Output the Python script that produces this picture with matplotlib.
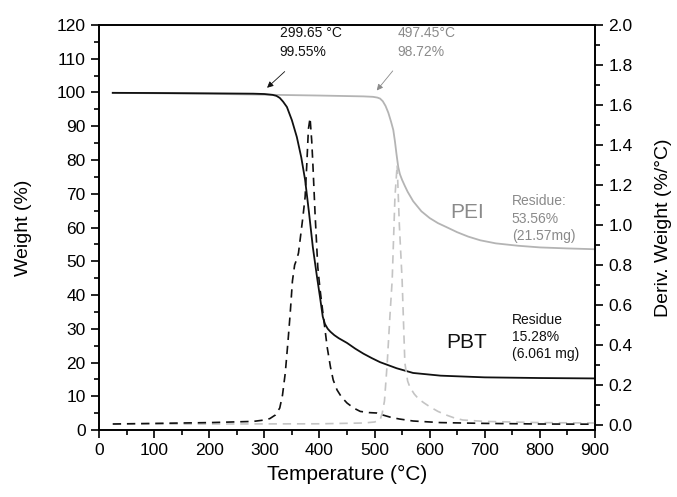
import matplotlib
matplotlib.use("Agg")
import matplotlib.pyplot as plt
from matplotlib.ticker import MultipleLocator, FormatStrFormatter

plt.rcParams['font.family'] = ['Liberation Sans', 'DejaVu Sans']

# TGA weight curves (temperature in °C, weight in %)
pbt_temp = [25, 100, 200, 280, 300, 315, 322, 328, 334, 341, 350, 359, 367, 374,
            381, 388, 395, 401, 406, 410, 415, 420, 427, 435, 450, 465, 480, 495,
            510, 540, 570, 620, 700, 800, 900]
pbt_weight = [99.9, 99.85, 99.75, 99.65, 99.55, 99.3, 99.0, 98.4, 97.3, 95.7, 91.8,
              86.8, 80.8, 74.1, 64.5, 54.2, 46.0, 39.4, 33.6, 31.4, 30.0, 29.1,
              28.1, 27.2, 25.8, 24.1, 22.6, 21.3, 20.1, 18.3, 16.9, 16.1, 15.6,
              15.4, 15.28]

pei_temp = [25, 200, 400, 480, 497, 505, 510, 515, 520, 525, 530, 534, 537, 540,
            543, 546, 550, 555, 560, 570, 585, 600, 615, 632, 650, 670, 692, 720,
            760, 800, 850, 900]
pei_weight = [99.9, 99.6, 99.1, 98.85, 98.72, 98.5, 98.2, 97.4, 96.0, 94.0, 91.3,
              88.9, 85.5, 81.5, 77.9, 75.8, 74.1, 72.3, 70.6, 67.8, 64.8, 62.8,
              61.3, 60.0, 58.6, 57.3, 56.2, 55.3, 54.6, 54.1, 53.8, 53.56]

# Derivative weight curves (%/°C)
pbt_dtemp = [25, 100, 200, 280, 300, 310, 320, 328, 333, 338, 343, 347, 351, 355,
             359, 362, 366, 370, 374, 377, 380, 383, 386, 388, 392, 397, 401, 405,
             410, 414, 420, 425, 432, 440, 450, 462, 474, 490, 504, 515, 530, 545,
             570, 620, 700, 800, 900]
pbt_deriv = [0.005, 0.008, 0.012, 0.018, 0.025, 0.032, 0.05, 0.085, 0.15, 0.26,
             0.42, 0.56, 0.72, 0.80, 0.83, 0.86, 0.95, 1.04, 1.14, 1.30, 1.48,
             1.535, 1.42, 1.31, 1.06, 0.79, 0.68, 0.59, 0.48, 0.39, 0.29, 0.225,
             0.175, 0.14, 0.11, 0.085, 0.068, 0.062, 0.06, 0.05, 0.038, 0.03,
             0.02, 0.012, 0.008, 0.005, 0.004]

pei_dtemp = [25, 200, 400, 480, 500, 510, 514, 518, 523, 528, 532, 537, 541, 545,
             550, 555, 560, 564, 572, 580, 590, 601, 615, 630, 645, 660, 700, 800,
             900]
pei_deriv = [0.005, 0.005, 0.006, 0.01, 0.015, 0.025, 0.06, 0.12, 0.31, 0.55,
             0.725, 1.14, 1.30, 1.0, 0.725, 0.31, 0.22, 0.19, 0.155, 0.13, 0.11,
             0.09, 0.068, 0.05, 0.035, 0.025, 0.018, 0.012, 0.01]

# Onset points
pbt_onset = (299.65, 99.55)
pei_onset = (497.45, 98.72)

BLACK = '#111111'
GRAY_LINE = '#b4b4b4'
GRAY_DASH = '#c4c4c4'
GRAY_TEXT = '#8a8a8a'

fig = plt.figure(figsize=(6.77, 4.97), dpi=100)
ax = fig.add_axes([0.1462, 0.1348, 0.7327, 0.8149])
ax2 = ax.twinx()

ax.plot(pei_temp, pei_weight, color=GRAY_LINE, lw=1.3)
ax.plot(pbt_temp, pbt_weight, color=BLACK, lw=1.3)
ax2.plot(pei_dtemp, pei_deriv, color=GRAY_DASH, lw=1.2, dashes=(5, 3.5))
ax2.plot(pbt_dtemp, pbt_deriv, color=BLACK, lw=1.2, dashes=(5, 3.5))

ax.set_xlim(0, 900)
ax.set_ylim(0, 120)
ax2.set_ylim(-0.025, 2.0)

ax.xaxis.set_major_locator(MultipleLocator(100))
ax.xaxis.set_minor_locator(MultipleLocator(50))
ax.yaxis.set_major_locator(MultipleLocator(10))
ax.yaxis.set_minor_locator(MultipleLocator(5))
ax2.yaxis.set_major_locator(MultipleLocator(0.2))
ax2.yaxis.set_minor_locator(MultipleLocator(0.1))
ax2.yaxis.set_major_formatter(FormatStrFormatter('%.1f'))

for a in (ax, ax2):
    for s in a.spines.values():
        s.set_linewidth(1.2)
    a.tick_params(which='major', length=6, width=1.2, labelsize=12.5, direction='out')
    a.tick_params(which='minor', length=3.5, width=1.2, direction='out')
ax.tick_params(top=False, which='both')

ax.set_xlabel('Temperature (°C)', fontsize=15, labelpad=5)
ax.set_ylabel('Weight (%)', fontsize=14, labelpad=18)
ax2.set_ylabel('Deriv. Weight (%/°C)', fontsize=14, labelpad=16)

# Onset annotations
ax.annotate('299.65 °C\n99.55%', xy=pbt_onset, xytext=(328, 119.6),
            fontsize=10, color=BLACK, va='top', ha='left', linespacing=1.45,
            annotation_clip=False)
ax.annotate('', xy=(305, 101.4), xytext=(337, 106.2),
            arrowprops=dict(arrowstyle='-|>', color=BLACK, lw=0.6,
                            mutation_scale=9, shrinkA=0, shrinkB=0))
ax.annotate('497.45°C\n98.72%', xy=pei_onset, xytext=(542, 119.6),
            fontsize=10, color=GRAY_TEXT, va='top', ha='left', linespacing=1.45,
            annotation_clip=False)
ax.annotate('', xy=(504, 100.6), xytext=(533, 106.4),
            arrowprops=dict(arrowstyle='-|>', color=GRAY_TEXT, lw=0.6,
                            mutation_scale=9, shrinkA=0, shrinkB=0))

# Sample labels and residues
ax.text(638, 64.3, 'PEI', fontsize=15, color=GRAY_TEXT, va='center', ha='left')
ax.text(749, 62.6, 'Residue:\n53.56%\n(21.57mg)', fontsize=10, color=GRAY_TEXT,
        va='center', ha='left', linespacing=1.3)
ax.text(630, 25.8, 'PBT', fontsize=15, color=BLACK, va='center', ha='left')
ax.text(749, 27.5, 'Residue\n15.28%\n(6.061 mg)', fontsize=10, color=BLACK,
        va='center', ha='left', linespacing=1.3)

fig.savefig('out.png', dpi=100)
